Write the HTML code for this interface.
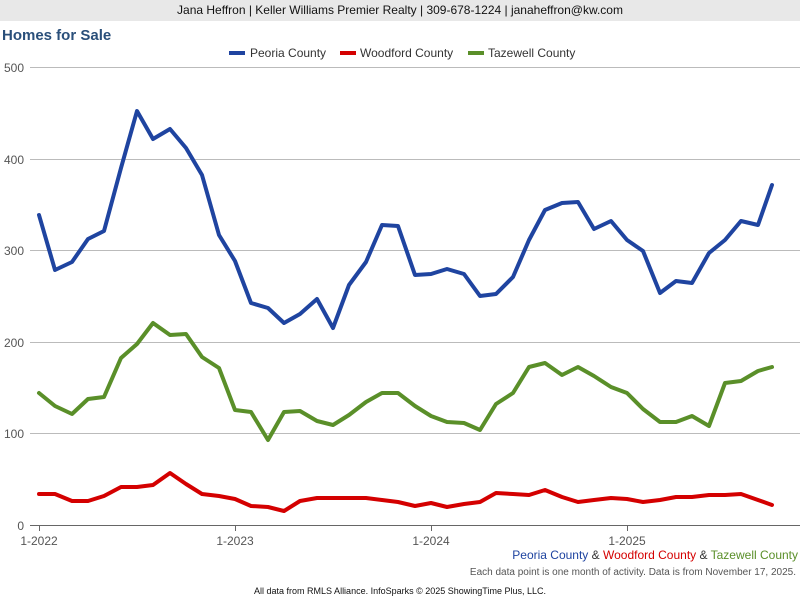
<!DOCTYPE html>
<html><head><meta charset="utf-8"><style>
body{margin:0;width:800px;height:600px;background:#fff;font-family:"Liberation Sans",Arial,sans-serif;overflow:hidden;position:relative}
.hdr{position:absolute;left:0;top:0;width:800px;height:21px;background:#e8e8e8;font-size:12px;line-height:21px;text-align:center;color:#111}
svg{position:absolute;left:0;top:0}
</style></head><body>
<div class="hdr">Jana Heffron | Keller Williams Premier Realty | 309-678-1224 | janaheffron@kw.com</div>
<svg width="800" height="600" xmlns="http://www.w3.org/2000/svg" font-family="Liberation Sans, Arial, sans-serif">
<text x="2" y="40" font-size="15" font-weight="bold" fill="#2a4f7a">Homes for Sale</text>
<g font-size="12" fill="#333">
<line x1="229" y1="53" x2="245" y2="53" stroke="#1f44a0" stroke-width="4"/><text x="250" y="57">Peoria County</text>
<line x1="340" y1="53" x2="356" y2="53" stroke="#d40000" stroke-width="4"/><text x="360" y="57">Woodford County</text>
<line x1="468" y1="53" x2="484" y2="53" stroke="#5a8f29" stroke-width="4"/><text x="488" y="57">Tazewell County</text>
</g>
<g stroke="#bbb" stroke-width="1">
<line x1="30" y1="67.5" x2="800" y2="67.5"/><line x1="30" y1="159.5" x2="800" y2="159.5"/><line x1="30" y1="250.5" x2="800" y2="250.5"/><line x1="30" y1="342.5" x2="800" y2="342.5"/><line x1="30" y1="433.5" x2="800" y2="433.5"/>
</g>
<line x1="30" y1="525.5" x2="800" y2="525.5" stroke="#666"/>
<g stroke="#666"><line x1="39.5" y1="525" x2="39.5" y2="531"/><line x1="235.5" y1="525" x2="235.5" y2="531"/><line x1="431.5" y1="525" x2="431.5" y2="531"/><line x1="627.5" y1="525" x2="627.5" y2="531"/></g>
<g font-size="12" fill="#555" text-anchor="end">
<text x="24" y="72">500</text><text x="24" y="164">400</text><text x="24" y="255">300</text><text x="24" y="347">200</text><text x="24" y="438">100</text><text x="24" y="530">0</text>
</g>
<g font-size="12" fill="#555" text-anchor="middle">
<text x="39" y="545">1-2022</text><text x="235" y="545">1-2023</text><text x="431" y="545">1-2024</text><text x="627" y="545">1-2025</text>
</g>
<g fill="none" stroke-width="4" stroke-linejoin="round" stroke-linecap="round">
<polyline stroke="#5a8f29" points="39,393 55,406 72,414 88,399 104,397 121,358 137,344 153,323 170,335 186,334 202,357 219,368 235,410 251,412 268,440 284,412 300,411 317,421 333,425 349,415 366,402 382,393 398,393 415,406 431,416 447,422 464,423 480,430 496,404 513,393 529,367 545,363 562,375 578,367 594,376 611,387 627,393 643,409 660,422 676,422 692,416 709,426 725,383 741,381 758,371 772,367"/>
<polyline stroke="#d40000" points="39,494 55,494 72,501 88,501 104,496 121,487 137,487 153,485 170,473 186,484 202,494 219,496 235,499 251,506 268,507 284,511 300,501 317,498 333,498 349,498 366,498 382,500 398,502 415,506 431,503 447,507 464,504 480,502 496,493 513,494 529,495 545,490 562,497 578,502 594,500 611,498 627,499 643,502 660,500 676,497 692,497 709,495 725,495 741,494 758,500 772,505"/>
<polyline stroke="#1f44a0" points="39,215 55,270 72,262 88,239 104,231 121,168 137,111 153,139 170,129 186,148 202,175 219,235 235,261 251,303 268,308 284,323 300,314 317,299 333,328 349,285 366,262 382,225 398,226 415,275 431,274 447,269 464,274 480,296 496,294 513,277 529,240 545,210 562,203 578,202 594,229 611,221 627,240 643,251 660,293 676,281 692,283 709,253 725,240 741,221 758,225 772,185"/>
</g>
<text x="798" y="559" font-size="12" text-anchor="end"><tspan fill="#1f44a0">Peoria County</tspan><tspan fill="#333"> &amp; </tspan><tspan fill="#d40000">Woodford County</tspan><tspan fill="#333"> &amp; </tspan><tspan fill="#5a8f29">Tazewell County</tspan></text>
<text x="796" y="575" font-size="10" fill="#555" text-anchor="end">Each data point is one month of activity. Data is from November 17, 2025.</text>
<text x="400" y="594" font-size="9" fill="#111" text-anchor="middle">All data from RMLS Alliance. InfoSparks © 2025 ShowingTime Plus, LLC.</text>
</svg>
</body></html>
